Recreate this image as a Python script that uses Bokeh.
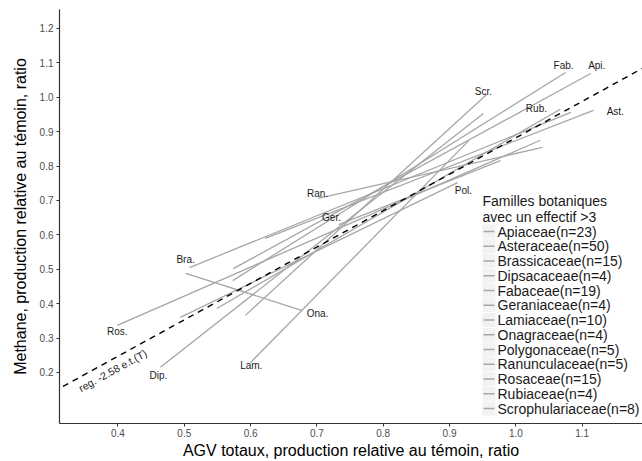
import math
from bokeh.plotting import figure
from bokeh.models import (ColumnDataSource, Slope, FixedTicker, PrintfTickFormatter, Range1d)
from bokeh.core.properties import value
from bokeh.embed import file_html
from bokeh.resources import INLINE

# ---------------- data ----------------
families = ["Apiaceae", "Asteraceae", "Brassicaceae", "Dipsacaceae", "Fabaceae",
            "Geraniaceae", "Lamiaceae", "Onagraceae", "Polygonaceae", "Ranunculaceae",
            "Rosaceae", "Rubiaceae", "Scrophulariaceae"]
counts = [23, 50, 15, 4, 19, 4, 10, 4, 5, 5, 15, 4, 8]
abbrev = ["Api.", "Ast.", "Bra.", "Dip.", "Fab.", "Ger.", "Lam.", "Ona.", "Pol.",
          "Ran.", "Ros.", "Rub.", "Scr."]

x_start = [0.574, 0.622, 0.508, 0.464, 0.573, 0.733, 0.600, 0.502, 0.494, 0.702, 0.399, 0.549, 0.592]
y_start = [0.502, 0.590, 0.505, 0.215, 0.467, 0.630, 0.229, 0.488, 0.360, 0.706, 0.337, 0.386, 0.366]
x_end = [1.113, 1.117, 1.083, 0.951, 1.075, 0.977, 0.929, 0.678, 0.912, 1.040, 1.037, 1.067, 0.956]
y_end = [1.069, 0.962, 0.956, 0.953, 1.072, 0.816, 0.874, 0.380, 0.752, 0.854, 0.875, 0.965, 1.008]

label_x = [1.122, 1.150, 0.502, 0.461, 1.072, 0.722, 0.601, 0.701, 0.921, 0.701, 0.399, 1.031, 0.951]
label_y = [1.092, 0.959, 0.528, 0.191, 1.092, 0.651, 0.220, 0.372, 0.729, 0.720, 0.319, 0.967, 1.017]

reg_intercept = -0.176
reg_slope = 1.058
reg_label = "reg. -2.58 e.t.(T)"
reg_label_x = 0.392
reg_label_y = 0.206

x_ticks = [0.4, 0.5, 0.6, 0.7, 0.8, 0.9, 1.0, 1.1]
y_ticks = [0.2, 0.3, 0.4, 0.5, 0.6, 0.7, 0.8, 0.9, 1.0, 1.1, 1.2]

legend_title = ["Familles botaniques", "avec un effectif >3"]

x_lo, x_hi = 0.3118, 1.191
y_lo, y_hi = 0.0517, 1.255

FONT = "Liberation Sans"

# ---------------- layout ----------------
W, H = 642, 461
B_LEFT, B_RIGHT, B_TOP, B_BOTTOM = 59, 0, 9, 38
frame_w = W - B_LEFT - B_RIGHT
frame_h = H - B_TOP - B_BOTTOM
ppx = frame_w / (x_hi - x_lo)
ppy = frame_h / (y_hi - y_lo)


def px2x(px):
    return x_lo + (px - B_LEFT) / ppx


def py2y(py):
    return y_hi - (py - B_TOP) / ppy


p = figure(width=W, height=H, output_backend="svg", toolbar_location=None,
           x_range=Range1d(x_lo, x_hi), y_range=Range1d(y_lo, y_hi),
           min_border_left=B_LEFT, min_border_right=B_RIGHT,
           min_border_top=B_TOP, min_border_bottom=B_BOTTOM,
           x_axis_label="AGV totaux, production relative au témoin, ratio",
           y_axis_label="Methane, production relative au témoin, ratio")
p.outline_line_color = None
p.grid.visible = False
p.background_fill_color = "white"
p.border_fill_color = "white"

for ax in (p.xaxis[0], p.yaxis[0]):
    ax.axis_line_color = "#333333"
    ax.axis_line_width = 1.2
    ax.major_tick_line_color = "#333333"
    ax.major_tick_out = 3
    ax.major_tick_in = 0
    ax.minor_tick_line_color = None
    ax.major_label_text_font = FONT
    ax.major_label_text_font_size = "10px"
    ax.major_label_text_color = "#4d4d4d"
    ax.axis_label_text_font = FONT
    ax.axis_label_text_font_size = "16px"
    ax.axis_label_text_font_style = "normal"
    ax.axis_label_text_color = "#000000"
    ax.formatter = PrintfTickFormatter(format="%.1f")

p.xaxis.ticker = FixedTicker(ticks=x_ticks)
p.yaxis.ticker = FixedTicker(ticks=y_ticks)
p.xaxis.major_label_standoff = 2
p.xaxis.axis_label_standoff = 2
p.yaxis.major_label_standoff = 3
p.yaxis.axis_label_standoff = 8

src = ColumnDataSource(dict(x0=x_start, y0=y_start, x1=x_end, y1=y_end,
                            lx=label_x, ly=label_y, ab=abbrev))
p.segment(x0="x0", y0="y0", x1="x1", y1="y1", source=src,
          line_color="#a6a6a6", line_width=1.3)

p.text(x="lx", y="ly", text="ab", source=src, text_font=value(FONT),
       text_font_size=value("10px"), text_align="center", text_baseline="middle",
       text_color="#1a1a1a")

p.add_layout(Slope(gradient=reg_slope, y_intercept=reg_intercept, line_color="black",
                   line_dash="6 5", line_width=1.4))

ang = math.atan(reg_slope * ppy / ppx)
p.text(x=[reg_label_x], y=[reg_label_y], text=[reg_label], angle=ang,
       text_font=value(FONT), text_font_size=value("10.5px"), text_align="center",
       text_baseline="middle", text_color="#1a1a1a")

# ---------------- legend (drawn by hand, ggplot style) ----------------
LEG_X = 482          # left edge of legend, px
TITLE_Y0 = 200       # first title line centre, px
TITLE_DY = 16
ROW_Y0 = 231         # first entry centre, px
ROW_DY = 14.75
KEY_W, KEY_H = 13, 14

p.text(x=[px2x(LEG_X)] * len(legend_title),
       y=[py2y(TITLE_Y0 + i * TITLE_DY) for i in range(len(legend_title))],
       text=legend_title, text_font=value(FONT), text_font_size=value("14px"),
       text_align="left", text_baseline="middle", text_color="#1a1a1a")

entries = [f"{f}(n={n})" for f, n in zip(families, counts)]
row_y = [py2y(ROW_Y0 + i * ROW_DY) for i in range(len(entries))]
key_cx = px2x(LEG_X + KEY_W / 2)
p.rect(x=[key_cx] * len(entries), y=row_y, width=KEY_W, height=KEY_H,
       width_units="screen", height_units="screen",
       fill_color="#f2f2f2", line_color=None)
p.segment(x0=[px2x(LEG_X + 1)] * len(entries), y0=row_y,
          x1=[px2x(LEG_X + KEY_W - 1)] * len(entries), y1=row_y,
          line_color="#a6a6a6", line_width=1.3)
p.text(x=[px2x(LEG_X + KEY_W + 2)] * len(entries), y=row_y, text=entries,
       text_font=value(FONT), text_font_size=value("14px"), text_align="left",
       text_baseline="middle", text_color="#1a1a1a")

open("out.html", "w").write(file_html(p, INLINE))
